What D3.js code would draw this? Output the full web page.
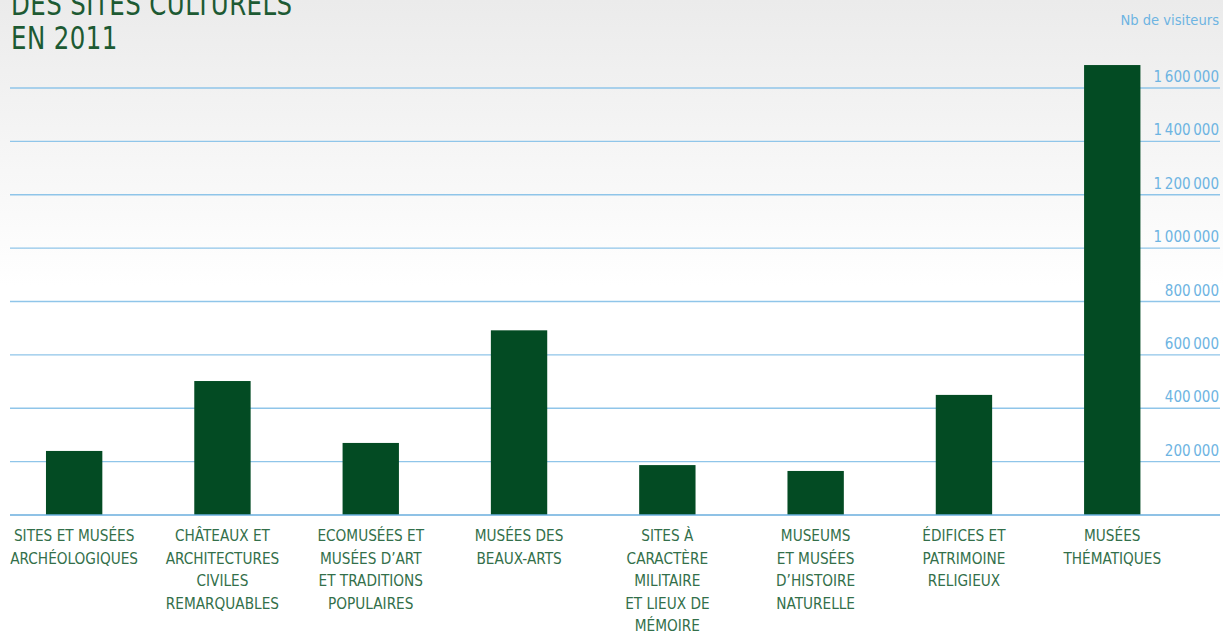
<!DOCTYPE html>
<html>
<head>
<meta charset="utf-8">
<script src="https://cdn.jsdelivr.net/npm/d3@7"></script>
<style>
  html, body { margin: 0; padding: 0; }
  body { width: 1223px; height: 635px; overflow: hidden; }
  svg { display: block; }
</style>
</head>
<body>
<svg id="drawing_region"></svg>
<script>
// categories (one label line per array entry)
const categories = [
    ["SITES ET MUSÉES", "ARCHÉOLOGIQUES"],
    ["CHÂTEAUX ET", "ARCHITECTURES", "CIVILES", "REMARQUABLES"],
    ["ECOMUSÉES ET", "MUSÉES D’ART", "ET TRADITIONS", "POPULAIRES"],
    ["MUSÉES DES", "BEAUX-ARTS"],
    ["SITES À", "CARACTÈRE", "MILITAIRE", "ET LIEUX DE", "MÉMOIRE"],
    ["MUSEUMS", "ET MUSÉES", "D’HISTOIRE", "NATURELLE"],
    ["ÉDIFICES ET", "PATRIMOINE", "RELIGIEUX"],
    ["MUSÉES", "THÉMATIQUES"]
];
const visitors = [240000, 502000, 270000, 692000, 187000, 165000, 450000, 1686000];
const yTicks = [200000, 400000, 600000, 800000, 1000000, 1200000, 1400000, 1600000];
const titleLines = ["DES SITES CULTURELS", "EN 2011"];
const yTitle = "Nb de visiteurs";

const width = 1223, height = 635;
const font = '"DejaVu Sans Condensed", "Liberation Sans Narrow", sans-serif';
const svg = d3.select('#drawing_region')
    .attr('width', width)
    .attr('height', height);

// background gradient
const defs = svg.append('defs');
const grad = defs.append('linearGradient')
    .attr('id', 'bg').attr('x1', 0).attr('y1', 0).attr('x2', 0).attr('y2', 1);
grad.append('stop').attr('offset', '0%').attr('stop-color', '#ebebeb');
grad.append('stop').attr('offset', '45%').attr('stop-color', '#ffffff');
grad.append('stop').attr('offset', '100%').attr('stop-color', '#ffffff');
svg.append('rect').attr('width', width).attr('height', height).attr('fill', 'url(#bg)');

const baseY = 515;
const plotLeft = 0, plotRight = 1186.4;

const xscale = d3.scaleBand()
    .domain(d3.range(categories.length))
    .range([plotLeft, plotRight])
    .paddingInner(0.62)
    .paddingOuter(0.31);
const yscale = d3.scaleLinear()
    .domain([0, 1600000])
    .range([baseY, 88]);

const fmt = d3.formatLocale({ decimal: ',', thousands: '\u2009', grouping: [3], currency: ['', ' €'] }).format(',d');

// gridlines
svg.append('g').selectAll('line').data(yTicks)
    .join('line')
    .attr('x1', 10).attr('x2', 1220)
    .attr('y1', d => yscale(d)).attr('y2', d => yscale(d))
    .attr('stroke', '#8fc5e9')
    .attr('stroke-width', 1.4);

// tick labels
svg.append('g').selectAll('text').data(yTicks)
    .join('text')
    .attr('x', 1219)
    .attr('y', d => yscale(d) - 6)
    .attr('text-anchor', 'end')
    .attr('font-family', font)
    .attr('font-size', 15)
    .attr('fill', '#6db4e2')
    .text(d => fmt(d));

svg.append('text')
    .attr('x', 1219).attr('y', 25)
    .attr('text-anchor', 'end')
    .attr('font-family', font)
    .attr('font-size', 14.6)
    .attr('fill', '#6db4e2')
    .text(yTitle);

// bars
svg.append('g').selectAll('rect').data(visitors)
    .join('rect')
    .attr('x', (d, i) => xscale(i))
    .attr('y', d => yscale(d))
    .attr('width', xscale.bandwidth())
    .attr('height', d => baseY - yscale(d))
    .attr('fill', '#034b23');

// baseline
svg.append('line')
    .attr('x1', 10).attr('x2', 1220)
    .attr('y1', baseY).attr('y2', baseY)
    .attr('stroke', '#6aaede')
    .attr('stroke-width', 1.6);

// category labels
const lab = svg.append('g').selectAll('text').data(categories)
    .join('text')
    .attr('text-anchor', 'middle')
    .attr('font-family', font)
    .attr('font-size', 15.2)
    .attr('fill', '#336f4a');
lab.selectAll('tspan').data((d, i) => d.map(t => ({ t, i })))
    .join('tspan')
    .attr('x', d => xscale(d.i) + xscale.bandwidth() / 2)
    .attr('y', (d, j) => 541 + j * 22.5)
    .text(d => d.t);

// title (condensed horizontally)
svg.append('g')
    .attr('transform', 'translate(11,0) scale(0.85,1)')
    .selectAll('text').data(titleLines)
    .join('text')
    .attr('x', 0)
    .attr('y', (d, i) => 15 + i * 34)
    .attr('font-family', font)
    .attr('font-size', 32)
    .attr('letter-spacing', 0.5)
    .attr('fill', '#1d5a33')
    .text(d => d);
</script>
</body>
</html>
